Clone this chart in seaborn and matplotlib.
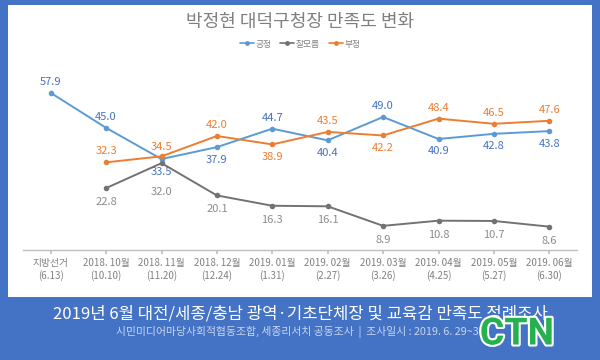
"""
박정현 대덕구청장 만족도 변화 - line chart recreation.
"""

import numpy as np
import pandas as pd
import matplotlib
matplotlib.use("Agg")
import matplotlib.pyplot as plt
import matplotlib.patheffects as pe
from matplotlib.lines import Line2D
import seaborn as sns

# Data
CATEGORIES = [
    "지방선거\n(6.13)",
    "2018. 10월\n(10.10)",
    "2018. 11월\n(11.20)",
    "2018. 12월\n(12.24)",
    "2019. 01월\n(1.31)",
    "2019. 02월\n(2.27)",
    "2019. 03월\n(3.26)",
    "2019. 04월\n(4.25)",
    "2019. 05월\n(5.27)",
    "2019. 06월\n(6.30)",
]
POSITIVE = [57.9, 45.0, 33.5, 37.9, 44.7, 40.4, 49.0, 40.9, 42.8, 43.8]
UNKNOWN = [np.nan, 22.8, 32.0, 20.1, 16.3, 16.1, 8.9, 10.8, 10.7, 8.6]
NEGATIVE = [np.nan, 32.3, 34.5, 42.0, 38.9, 43.5, 42.2, 48.4, 46.5, 47.6]
SERIES = ["긍정", "잘모름", "부정"]

# label offset in points: + above, - below
POS_OFF = [8, 8, -9, -9, 8, -9, 8, -9, -9, -9]
UNK_OFF = [-10, -10, -21, -10, -10, -10, -10, -10, -10, -10]
NEG_OFF = [8, 8, 7, 8, -9, 8, -9, 8, 8, 8]

LINE_COLORS = {"긍정": "#5B9BD5", "잘모름": "#767171", "부정": "#ED7D31"}
LABEL_COLORS = {"긍정": "#4472C4", "잘모름": "#8C8C8C", "부정": "#ED7D31"}
FRAME_BLUE = "#4472C4"

sns.set_theme(style="white")
plt.rcParams["font.family"] = ["Noto Sans CJK KR", "DejaVu Sans"]

rows = []
for name, vals in zip(SERIES, [POSITIVE, UNKNOWN, NEGATIVE]):
    for i, v in enumerate(vals):
        rows.append({"idx": i, "value": v, "series": name})
df = pd.DataFrame(rows).dropna()

fig = plt.figure(figsize=(6, 3.6), dpi=100)
fig.patch.set_facecolor(FRAME_BLUE)

# white inner panel (background axes)
bg = fig.add_axes([8 / 600, 1 - 297 / 360, 584 / 600, 292 / 360])
bg.set_facecolor("white")
bg.set_xticks([])
bg.set_yticks([])
for s in bg.spines.values():
    s.set_visible(False)
bg.set_zorder(0)

ax = fig.add_axes([23 / 600, 110 / 360, 554 / 600, 190 / 360])
ax.set_facecolor("none")
ax.set_zorder(1)

sns.lineplot(data=df, x="idx", y="value", hue="series", hue_order=SERIES,
             palette=LINE_COLORS, marker="o", markersize=4, markeredgewidth=0,
             linewidth=1.4, legend=False, ax=ax)

for name, vals, offs in zip(SERIES, [POSITIVE, UNKNOWN, NEGATIVE],
                            [POS_OFF, UNK_OFF, NEG_OFF]):
    for i, (v, o) in enumerate(zip(vals, offs)):
        if np.isnan(v):
            continue
        ax.annotate(f"{v:.1f}", (i, v), xytext=(0, o),
                    textcoords="offset points", ha="center", va="center",
                    fontsize=8, color=LABEL_COLORS[name])

ax.set_xlim(-0.5, len(CATEGORIES) - 0.5)
ax.set_ylim(0, 70)
ax.set_xticks(range(len(CATEGORIES)))
ax.set_xticklabels(CATEGORIES, fontsize=7, color="#808080", linespacing=1.25)
ax.set_yticks([])
ax.set_xlabel("")
ax.set_ylabel("")
for side in ["top", "right", "left"]:
    ax.spines[side].set_visible(False)
ax.spines["bottom"].set_color("#BFBFBF")
ax.spines["bottom"].set_linewidth(1)
ax.tick_params(axis="x", length=3, color="#BFBFBF", pad=3, bottom=True)

# title and legend
fig.text(0.5, 1 - 22 / 360, "박정현 대덕구청장 만족도 변화", ha="center",
         va="center", fontsize=13, color="#7F7F7F")
handles = [Line2D([0], [0], color=LINE_COLORS[s], marker="o", markersize=2.5,
                  linewidth=1.2) for s in SERIES]
fig.legend(handles, SERIES, loc="center", bbox_to_anchor=(0.5, 1 - 44 / 360),
           ncol=3, frameon=False, fontsize=6.3, handlelength=1.6,
           handletextpad=0.2, columnspacing=1.0, labelcolor="#808080")

# bottom banner
fig.text(0.5, 1 - 314 / 360,
         "2019년 6월 대전/세종/충남 광역·기초단체장 및 교육감 만족도 정례조사",
         ha="center", va="center", fontsize=12, color="white")
fig.text(300 / 600, 1 - 332 / 360,
         "시민미디어마당사회적협동조합, 세종리서치 공동조사  |  조사일시 : 2019. 6. 29~30",
         ha="center", va="center", fontsize=7.8, color="#C9D6EE")
fig.text(517 / 600, 1 - 334 / 360, "CTN", ha="center", va="center",
         fontsize=27, fontweight="bold", color="#25B14F",
         family=["Roboto", "DejaVu Sans"],
         path_effects=[pe.withStroke(linewidth=3, foreground="white")])

fig.savefig("out.png", dpi=100, facecolor=fig.get_facecolor())
